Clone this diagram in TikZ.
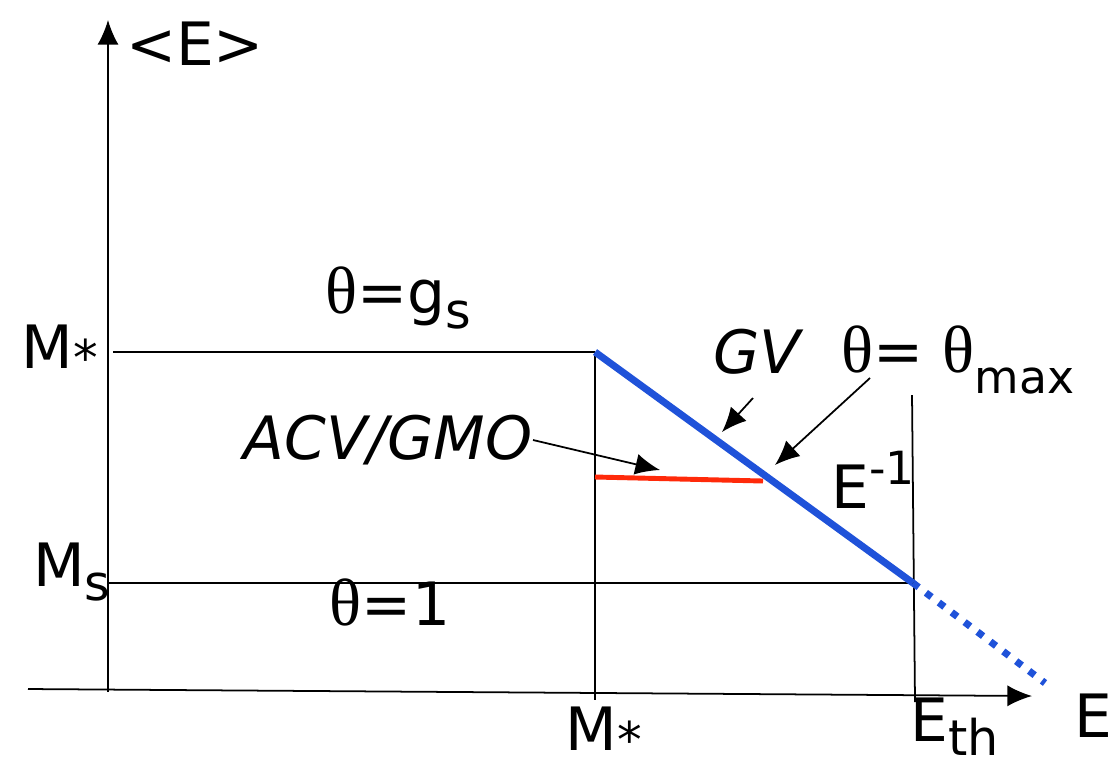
\documentclass[tikz,border=0pt]{standalone}
\usepackage{fontspec}
\setmainfont{DejaVu Sans}
\newfontfamily\thetafont{Liberation Serif}
\usetikzlibrary{arrows.meta}
\definecolor{gv-blue}{HTML}{1F52D9}
\definecolor{acv-red}{HTML}{FF2A0A}
\newcommand{\thsym}{{\thetafont\fontsize{19}{19}\selectfont θ}}
\newcommand{\lowsub}[2]{\raisebox{#1}{\fontsize{14}{14}\selectfont #2}}
\tikzset{
  lbl/.style={font=\fontsize{17}{17}\selectfont, inner sep=0pt, text=black},
  guide/.style={line width=0.5pt, black},
  axis/.style={line width=0.5pt, -{Latex[length=7pt,width=6pt]}},
  pointer/.style={line width=0.5pt, -{Latex[length=7pt,width=6pt]}},
  gvline/.style={gv-blue, line width=2pt},
}

\begin{document}
\begin{tikzpicture}[x=0.01cm, y=-0.01cm]
        \useasboundingbox (0,0) rectangle (1113,763);
        % axes
        \coordinate (orig) at (108,692);
        \coordinate (ytip) at (108,20);
        \coordinate (xstart) at (28,689);
        \coordinate (xtip) at (1032,696);
        \draw[axis] (orig) -- (ytip);
        \draw[axis] (xstart) -- (xtip);
        % characteristic points
        \coordinate (mstar) at (595,352);
        \coordinate (eth) at (913,583);
        \coordinate (dotend) at (1045,683);
        \coordinate (redL) at (595,477);
        \coordinate (redR) at (763,481);
        \draw[guide] (113,352) -- (mstar);
        \draw[guide] (mstar) -- (595,700);
        \draw[guide] (108,583) -- (eth);
        \draw[guide] (912,395) -- (915,702);
        % curves
        \draw[gvline] (mstar) -- (eth);
        \draw[gvline, dash pattern=on 2pt off 2.6pt] (eth) -- (dotend);
        \draw[acv-red, line width=1.4pt] (redL) -- (redR);
        % labels
        \node[lbl] (ylab) at (195,44) {<E>};
        \node[lbl] (xlab) at (1093,716) {E};
        \node[lbl] (mstarL) at (60,350) {M\lowsub{-2pt}{*}};
        \node[lbl] (msL) at (72,572) {M\lowsub{-4pt}{s}};
        \node[lbl] (mstarB) at (604,732) {M\lowsub{-2pt}{*}};
        \node[lbl] (ethB) at (955,727) {E\lowsub{-4pt}{th}};
        \node[lbl] (thgs) at (398,298) {\thsym=g\lowsub{-4pt}{s}};
        \node[lbl] (thone) at (390,602) {\thsym=1};
        \node[lbl] (thmax) at (958,360) {\thsym= \thsym\raisebox{-6pt}{\fontsize{13}{13}\selectfont max}};
        \node[lbl, font=\fontsize{17}{17}\selectfont\itshape] (gv) at (757,352) {GV};
        \node[lbl, font=\fontsize{17}{17}\selectfont\itshape] (acv) at (388,440) {ACV/GMO};
        \node[lbl] (einv) at (873,480) {E\raisebox{7pt}{\fontsize{13}{13}\selectfont -1}};
        % pointers
        \coordinate (gvfrom) at (753,398);
        \coordinate (gvto) at (722,432);
        \coordinate (maxfrom) at (870,378);
        \coordinate (maxto) at (775,465);
        \coordinate (acvto) at (660,470);
        \draw[pointer] (gvfrom) -- (gvto);
        \draw[pointer] (maxfrom) -- (maxto);
        \draw[pointer] (acv.east) -- (acvto);
\end{tikzpicture}
\end{document}
